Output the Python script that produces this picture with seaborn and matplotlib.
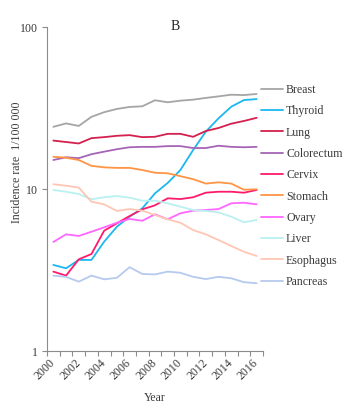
import matplotlib
matplotlib.use("Agg")
import matplotlib.pyplot as plt
import numpy as np
import pandas as pd
import seaborn as sns

# ---------------------------------------------------------------------------
# Data (incidence rate per 100 000)
# ---------------------------------------------------------------------------
years = list(range(2000, 2017))

breast = [24.2, 25.4, 24.5, 27.9, 29.8, 31.2, 32.1, 32.4, 35.3, 34.3, 35.1,
          35.6, 36.5, 37.3, 38.2, 38.0, 38.6]
thyroid = [3.40, 3.24, 3.65, 3.65, 4.73, 5.85, 6.75, 7.60, 9.40, 10.9, 13.1,
           17.4, 22.6, 27.3, 32.2, 35.4, 35.9]
lung = [19.9, 19.5, 19.1, 20.6, 20.9, 21.3, 21.5, 20.9, 21.0, 21.9, 21.9,
        21.0, 22.8, 23.8, 25.3, 26.3, 27.5]
colorectum = [15.1, 15.7, 15.5, 16.4, 17.0, 17.6, 18.1, 18.2, 18.2, 18.4, 18.4,
              17.9, 17.9, 18.5, 18.2, 18.1, 18.2]
cervix = [3.09, 2.92, 3.68, 3.97, 5.53, 6.14, 6.81, 7.49, 7.93, 8.76, 8.67,
          8.89, 9.49, 9.62, 9.62, 9.49, 9.86]
stomach = [15.8, 15.6, 15.1, 13.9, 13.6, 13.5, 13.5, 13.1, 12.6, 12.5, 12.0,
           11.5, 10.8, 11.0, 10.8, 9.9, 9.96]
ovary = [4.71, 5.25, 5.13, 5.45, 5.80, 6.19, 6.53, 6.37, 6.98, 6.50, 7.08,
         7.35, 7.42, 7.52, 8.16, 8.23, 8.04]
liver = [9.86, 9.62, 9.31, 8.64, 8.89, 9.05, 8.84, 8.47, 8.47, 8.16, 7.78,
         7.42, 7.32, 7.18, 6.75, 6.23, 6.44]
esophagus = [10.7, 10.48, 10.2, 8.35, 8.04, 7.32, 7.52, 7.35, 6.91, 6.50, 6.19,
             5.58, 5.25, 4.84, 4.45, 4.10, 3.86]
pancreas = [2.92, 2.87, 2.68, 2.92, 2.77, 2.83, 3.29, 2.99, 2.97, 3.09, 3.04,
            2.87, 2.78, 2.87, 2.81, 2.66, 2.62]

sites = ["Breast", "Thyroid", "Lung", "Colorectum", "Cervix", "Stomach",
         "Ovary", "Liver", "Esophagus", "Pancreas"]
series = [breast, thyroid, lung, colorectum, cervix, stomach,
          ovary, liver, esophagus, pancreas]
colors = ["#A5A5A5", "#1DB7EF", "#D3204D", "#A664B6", "#FF1A6C", "#FF9444",
          "#FF66FF", "#B9F0F0", "#FFC6B4", "#B6C9EE"]

label_years = years[::2]

# ---------------------------------------------------------------------------
# Plot
# ---------------------------------------------------------------------------
df = pd.DataFrame(
    [(y, s, v) for s, vals in zip(sites, series) for y, v in zip(years, vals)],
    columns=["Year", "Site", "Rate"],
)

sns.set_style("ticks")
plt.rcParams["font.family"] = ["Liberation Serif", "DejaVu Serif"]
text_color = "#3A3A3A"
axis_color = "#8C8C8C"
fs = 8.6

fig = plt.figure(figsize=(3.59, 4.09), dpi=100)
ax = fig.add_axes([47 / 359, 1 - 351 / 409, 216 / 359, 324 / 409])

sns.lineplot(
    data=df, x="Year", y="Rate", hue="Site", hue_order=sites,
    palette=dict(zip(sites, colors)), linewidth=1.3, ax=ax,
)

ax.set_yscale("log")
ax.set_ylim(1, 100)
ax.set_yticks([1, 10, 100], labels=["1", "10", "100"])
ax.yaxis.set_minor_locator(matplotlib.ticker.NullLocator())

ax.set_xlim(years[0] - 0.5, years[-1] + 0.5)
ax.set_xticks(np.arange(years[0] - 0.5, years[-1] + 1), labels=[])
ax.set_xticks(label_years, labels=[str(y) for y in label_years], minor=True)
ax.tick_params(axis="x", which="major", length=3.5, width=0.8, color=axis_color)
ax.tick_params(axis="x", which="minor", length=0, pad=7, labelsize=fs,
               labelcolor=text_color)
for lbl in ax.get_xticklabels(minor=True):
    lbl.set_rotation(45)
    lbl.set_ha("right")
    lbl.set_va("center")
    lbl.set_rotation_mode("anchor")
ax.tick_params(axis="y", length=3.5, width=0.8, color=axis_color,
               labelsize=fs, labelcolor=text_color, pad=3)

sns.despine(ax=ax)
for side in ("left", "bottom"):
    ax.spines[side].set_color(axis_color)
    ax.spines[side].set_linewidth(0.8)

ax.set_xlabel("")
ax.set_ylabel("")
fig.text(155 / 359, 1 - 398 / 409, "Year", ha="center", va="center",
         fontsize=fs, color=text_color)
fig.text(17 / 359, 1 - 162 / 409, "Incidence rate  1/100 000", ha="center",
         va="center", rotation=90, fontsize=fs, color=text_color)
fig.text(175 / 359, 1 - 27 / 409, "B", ha="center", va="center",
         fontsize=10, color="#222222")

handles, labels = ax.get_legend_handles_labels()
ax.legend(
    handles, labels, loc="upper left", frameon=False,
    bbox_to_anchor=(261 / 359, 1 - 84 / 409), bbox_transform=fig.transFigure,
    borderpad=0, borderaxespad=0, handlelength=1.85, handletextpad=0.25,
    labelspacing=0.78, fontsize=fs, labelcolor=text_color,
)

fig.savefig("out.png", dpi=100)
plt.close(fig)
